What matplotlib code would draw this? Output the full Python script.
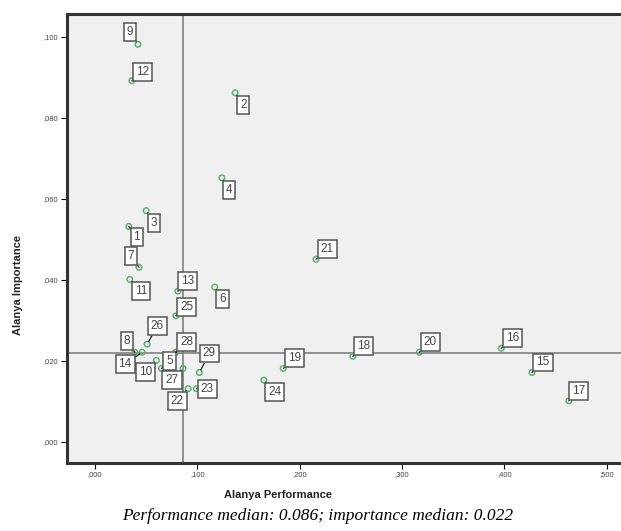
import matplotlib
matplotlib.use("Agg")
import matplotlib.pyplot as plt
from matplotlib.ticker import FuncFormatter

# attribute numbers with performance (x) and importance (y)
item_ids = list(range(1, 30))
performance = [0.033, 0.137, 0.050, 0.124, 0.065, 0.117, 0.043, 0.039, 0.042, 0.060,
               0.034, 0.036, 0.081, 0.046, 0.427, 0.397, 0.463, 0.252, 0.184, 0.317,
               0.216, 0.091, 0.099, 0.165, 0.079, 0.051, 0.086, 0.079, 0.102]
importance = [0.0532, 0.0862, 0.0571, 0.0652, 0.0181, 0.0382, 0.0431, 0.0221, 0.0982, 0.0201,
              0.0401, 0.0892, 0.0372, 0.0221, 0.0171, 0.0231, 0.0101, 0.0211, 0.0181, 0.0221,
              0.0451, 0.0131, 0.0131, 0.0152, 0.0311, 0.0241, 0.0181, 0.0221, 0.0171]
perf_median = 0.086
imp_median = 0.022
x_ticks = [0.0, 0.1, 0.2, 0.3, 0.4, 0.5]
y_ticks = [0.0, 0.02, 0.04, 0.06, 0.08, 0.10]

# where each label box sits relative to its point (screen pixels, y down)
label_offsets = [(8, 11), (8, 12), (8, 12), (7, 12), (8, -7), (8, 12), (-8, -11), (-8, -11),
                 (-8, -12), (-11, 12), (11, 12), (11, -9), (10, -10), (-17, 12), (11, -10),
                 (11, -10), (10, -10), (11, -10), (11, -10), (11, -10), (11, -10), (-11, 12),
                 (11, 0), (11, 12), (11, -9), (10, -18), (-11, 12), (11, -10), (10, -19)]

W, H = 621, 531
fig = plt.figure(figsize=(W / 100, H / 100), dpi=100)
# frame runs off the right edge of the picture
ax_left, ax_right, ax_top, ax_bottom = 66.7, 640, 14, 463
ax = fig.add_axes([ax_left / W, 1 - ax_bottom / H, (ax_right - ax_left) / W, (ax_bottom - ax_top) / H])
ax.set_facecolor("#f0f0f0")

# pixel -> data mapping
px0, ppu_x = 95.0, 1023.4
py0, ppu_y = 441.7, 4047.0
ax.set_xlim((ax_left - px0) / ppu_x, (ax_right - px0) / ppu_x)
ax.set_ylim((py0 - ax_bottom) / ppu_y, (py0 - ax_top) / ppu_y)

ax.axvline(perf_median, color="#777777", lw=1.1, zorder=1)
ax.axhline(imp_median, color="#777777", lw=1.1, zorder=1)

ax.scatter(performance, importance, s=16, facecolors="none", edgecolors="#5cb270",
           linewidths=1.1, zorder=3)

for i, x, y, (dx, dy) in zip(item_ids, performance, importance, label_offsets):
    ax.annotate(str(i), (x, y), xytext=(dx, -dy), textcoords="offset pixels",
                ha="center", va="center", fontsize=8.5, color="#444444",
                family="Liberation Sans", zorder=4,
                bbox=dict(boxstyle="square,pad=0.25", fc="white", ec="#555555", lw=1.1),
                arrowprops=dict(arrowstyle="-", color="black", lw=0.8, shrinkA=0, shrinkB=2))

fmt = FuncFormatter(lambda v, p: f"{v:.3f}"[1:].replace(".", ","))
ax.set_xticks(x_ticks)
ax.set_yticks(y_ticks)
ax.xaxis.set_major_formatter(fmt)
ax.yaxis.set_major_formatter(fmt)
ax.tick_params(direction="out", length=4, width=0.8, labelsize=5.5,
               labelcolor="#444444", pad=2)
for lab in ax.get_xticklabels() + ax.get_yticklabels():
    lab.set_family("Liberation Sans")

for side in ["left", "bottom", "top"]:
    ax.spines[side].set_linewidth(2.2)
    ax.spines[side].set_color("#333333")
ax.spines["right"].set_visible(False)

fig.text(18 / W, 1 - 285 / H, "Alanya Importance", rotation=90, ha="center", va="center",
         fontsize=8, fontweight="bold", family="Liberation Sans", color="#222222")
fig.text(278 / W, 1 - 495 / H, "Alanya Performance", ha="center", va="center",
         fontsize=8, fontweight="bold", family="Liberation Sans", color="#222222")
fig.text(318 / W, 1 - 516 / H, "Performance median: 0.086; importance median: 0.022",
         ha="center", va="center", fontsize=12.5, style="italic", family="Liberation Serif",
         color="black")

fig.savefig("out.png", dpi=100)
